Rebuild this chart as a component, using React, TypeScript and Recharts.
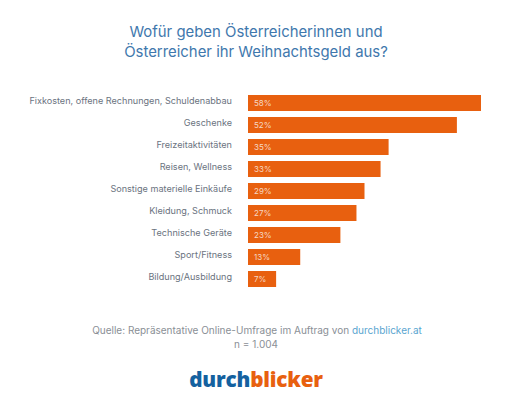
import React from "react";
import { BarChart, Bar, XAxis, YAxis, LabelList } from "recharts";

const categories = ["Fixkosten, offene Rechnungen, Schuldenabbau", "Geschenke", "Freizeitaktivitäten", "Reisen, Wellness", "Sonstige materielle Einkäufe", "Kleidung, Schmuck", "Technische Geräte", "Sport/Fitness", "Bildung/Ausbildung"];
const shares = [58, 52, 35, 33, 29, 27, 23, 13, 7];
const titleLines = ["Wofür geben Österreicherinnen und", "Österreicher ihr Weihnachtsgeld aus?"];
const rows = categories.map((name, i) => ({ name, value: shares[i] }));

const font = "Inter, 'Open Sans', sans-serif";
const center = (top: number): React.CSSProperties => ({ position: "absolute", left: 0, width: 512, top, textAlign: "center", whiteSpace: "nowrap" });

const CategoryTick = ({ x, y, payload }: any) => (
  <text x={x} y={y} dx={-2} dy={1} textAnchor="end" fontSize={9.1} fontFamily={font} fill="#6b7380">{payload.value}</text>
);

export default function App() {
  return (
    <div style={{ position: "absolute", left: 0, top: 0, width: 512, height: 411, background: "#fff", fontFamily: font, overflow: "hidden" }}>
      {titleLines.map((t, i) => (
        <div key={t} style={{ ...center(22 + i * 20), fontSize: 14.9, lineHeight: "20px", color: "#3f78ad" }}>{t}</div>
      ))}
      <div style={{ position: "absolute", left: 0, top: 0 }}>
        <BarChart width={512} height={411} data={rows} layout="vertical" margin={{ top: 92, right: 31, bottom: 121, left: 0 }} barCategoryGap={3}>
          <XAxis type="number" hide domain={[0, 58]} />
          <YAxis type="category" dataKey="name" width={248} axisLine={false} tickLine={false} interval={0} tickMargin={8} tick={<CategoryTick />} />
          <Bar dataKey="value" fill="#e8600f" isAnimationActive={false}>
            <LabelList dataKey="value" position="insideLeft" offset={6} formatter={(v: number) => `${v}%`} style={{ fontSize: 8, fill: "#f6d8c4", fontFamily: font }} />
          </Bar>
        </BarChart>
      </div>
      <div style={{ ...center(324), left: 1, fontSize: 10, lineHeight: "13px", color: "#8a8f96" }}>
        Quelle: Repräsentative Online-Umfrage im Auftrag von <span style={{ color: "#5aa5d0" }}>durchblicker.at</span>
      </div>
      <div style={{ ...center(337.5), fontSize: 10, lineHeight: "13px", color: "#8a8f96" }}>n = 1.004</div>
      <div style={{ ...center(366), fontFamily: "'Open Sans', sans-serif", fontSize: 20.7, fontWeight: 800, lineHeight: "26px", letterSpacing: -0.2 }}>
        <span style={{ color: "#14619f" }}>durch</span><span style={{ color: "#e8600f" }}>blicker</span>
      </div>
    </div>
  );
}
